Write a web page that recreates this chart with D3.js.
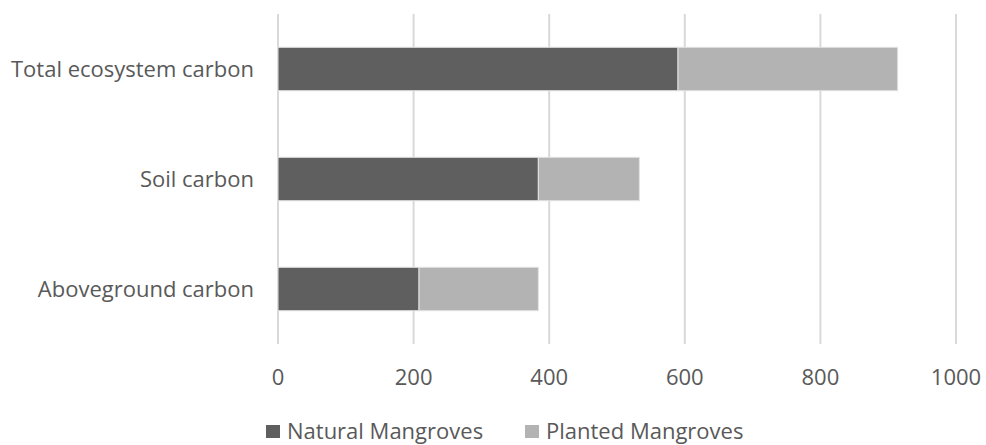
<!DOCTYPE html>
<html>
<head>
<meta charset="utf-8">
<script src="https://cdn.jsdelivr.net/npm/d3@7"></script>
<style>
  body { margin: 0; background: #fff; }
  text { font-family: "Open Sans", "Noto Sans", sans-serif; fill: #595959; }
</style>
</head>
<body>
<div id="chart"></div>
<script>
const categories = ["Total ecosystem carbon", "Soil carbon", "Aboveground carbon"];
const natural = [590, 384, 208];
const planted = [324, 149, 176];
const seriesNames = ["Natural Mangroves", "Planted Mangroves"];
const xTicks = [0, 200, 400, 600, 800, 1000];

const W = 986, H = 445;
const colors = ["#5f5f5f", "#b3b3b3"];

const svg = d3.select("#chart")
  .append("svg")
  .attr("width", W)
  .attr("height", H);

const x = d3.scaleLinear()
  .domain([0, 1000])
  .range([278, 956]);

const y = d3.scaleBand()
  .domain(categories)
  .range([14, 344])
  .paddingInner(0.605)
  .paddingOuter(0.3025);

// gridlines
svg.append("g")
  .selectAll("line")
  .data(xTicks)
  .enter()
    .append("line")
      .attr("x1", d => x(d))
      .attr("x2", d => x(d))
      .attr("y1", 14)
      .attr("y2", 344)
      .attr("stroke", "#d9d9d9")
      .attr("stroke-width", 2);

// stacked bars
const data = categories.map((c, i) => ({cat: c, natural: natural[i], planted: planted[i]}));
const stack = d3.stack().keys(["natural", "planted"]);
const layers = stack(data);

svg.append("g")
  .selectAll("g")
  .data(layers)
  .enter()
    .append("g")
      .attr("fill", (d, i) => colors[i])
    .selectAll("rect")
    .data(d => d)
    .enter()
      .append("rect")
        .attr("x", d => x(d[0]))
        .attr("y", d => y(d.data.cat))
        .attr("width", d => x(d[1]) - x(d[0]))
        .attr("height", y.bandwidth())
        .attr("stroke", "#e3e3e3")
        .attr("stroke-width", 1);

// x axis labels
svg.append("g")
  .selectAll("text")
  .data(xTicks)
  .enter()
    .append("text")
      .attr("x", d => x(d))
      .attr("y", 385)
      .attr("text-anchor", "middle")
      .style("font-size", "22px")
      .text(d => d);

// category labels
svg.append("g")
  .selectAll("text")
  .data(categories)
  .enter()
    .append("text")
      .attr("x", 254)
      .attr("y", d => y(d) + y.bandwidth() / 2 + 8)
      .attr("text-anchor", "end")
      .style("font-size", "22px")
      .text(d => d);

// legend
const legendX = [266, 525];
const legend = svg.append("g")
  .selectAll("g")
  .data(seriesNames)
  .enter()
    .append("g")
      .attr("transform", (d, i) => "translate(" + legendX[i] + ",0)");

legend.append("rect")
  .attr("x", 0)
  .attr("y", 425)
  .attr("width", 14)
  .attr("height", 13)
  .attr("fill", (d, i) => colors[i]);

legend.append("text")
  .attr("x", 21)
  .attr("y", 439)
  .style("font-size", "22px")
  .text(d => d);
</script>
</body>
</html>
